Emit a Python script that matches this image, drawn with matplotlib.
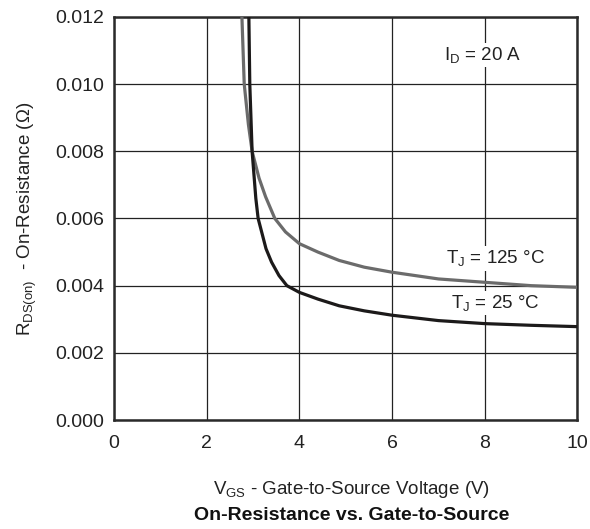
import matplotlib
matplotlib.use("Agg")
import matplotlib.pyplot as plt
from matplotlib.ticker import FormatStrFormatter

plt.rcParams['font.family'] = ['Liberation Sans', 'DejaVu Sans']
plt.rcParams['mathtext.fontset'] = 'custom'
plt.rcParams['mathtext.rm'] = 'Liberation Sans'
plt.rcParams['mathtext.it'] = 'Liberation Sans'

# (V_GS in volts, R_DS(on) in ohms)
vgs_25 = [2.91, 2.93, 2.98, 3.06, 3.11, 3.28, 3.4, 3.56, 3.73, 4.0, 4.4, 4.86, 5.4, 6.0, 7.0, 8.0, 9.0, 10.0]
rds_25 = [0.012, 0.010, 0.008, 0.0066, 0.006, 0.0051, 0.0047, 0.0043, 0.0040, 0.0038, 0.0036, 0.0034,
          0.00325, 0.00312, 0.00296, 0.00287, 0.00282, 0.00278]

vgs_125 = [2.76, 2.81, 2.9, 2.98, 3.13, 3.27, 3.47, 3.7, 4.0, 4.4, 4.86, 5.4, 6.0, 7.0, 8.0, 9.0, 10.0]
rds_125 = [0.012, 0.010, 0.0088, 0.008, 0.0072, 0.00665, 0.006, 0.0056, 0.00525, 0.0050, 0.00475,
           0.00455, 0.0044, 0.0042, 0.0041, 0.0040, 0.00395]

xticks = [0, 2, 4, 6, 8, 10]
yticks = [0.000, 0.002, 0.004, 0.006, 0.008, 0.010, 0.012]

fig = plt.figure(figsize=(5.9, 5.29), dpi=100)
ax = fig.add_axes([0.1932, 0.206, 0.7856, 0.762])

ax.plot(vgs_125, rds_125, color='#6b6b6b', lw=2.3, solid_capstyle='butt', zorder=3)
ax.plot(vgs_25, rds_25, color='#1c1a1a', lw=2.3, solid_capstyle='butt', zorder=3)

ax.set_xlim(0, 10)
ax.set_ylim(0, 0.012)
ax.set_xticks(xticks)
ax.set_yticks(yticks)
ax.yaxis.set_major_formatter(FormatStrFormatter('%.3f'))
ax.grid(True, color='#222222', lw=0.9)
ax.tick_params(length=0, labelsize=14, colors='#222222')
ax.tick_params(axis='x', pad=11)
ax.tick_params(axis='y', pad=7)
for s in ax.spines.values():
    s.set_linewidth(1.8)
    s.set_color('#2a2a2a')

box = dict(facecolor='white', edgecolor='none', pad=1.5)
ax.text(7.13, 0.01087, r'I$_\mathrm{D}$ = 20 A', fontsize=13.5, color='#222222', va='center',
        bbox=box, zorder=2)
ax.text(7.16, 0.00481, r'T$_\mathrm{J}$ = 125 °C', fontsize=13.5, color='#222222', va='center',
        bbox=box, zorder=2)
ax.text(7.27, 0.00348, r'T$_\mathrm{J}$ = 25 °C', fontsize=13.5, color='#222222', va='center',
        bbox=box, zorder=2)

ax.set_ylabel(r'R$_\mathrm{DS(on)}$  - On-Resistance ($\Omega$)', fontsize=13.5, color='#222222', labelpad=12)
fig.text(0.596, 0.074, r'V$_\mathrm{GS}$ - Gate-to-Source Voltage (V)', fontsize=13.5,
         ha='center', va='center', color='#222222')
fig.text(0.596, 0.026, 'On-Resistance vs. Gate-to-Source', fontsize=14,
         fontweight='bold', ha='center', va='center', color='#111111')

fig.savefig('out.png', dpi=100)
